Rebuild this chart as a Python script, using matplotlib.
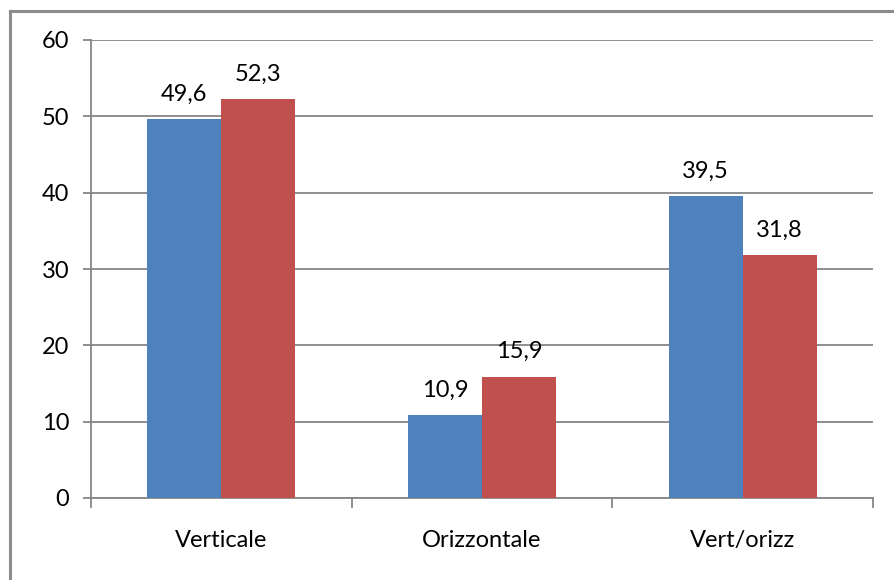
import matplotlib
matplotlib.use("Agg")
import matplotlib.pyplot as plt
import numpy as np

categories = ["Verticale", "Orizzontale", "Vert/orizz"]
series_a = [49.6, 10.9, 39.5]
series_b = [52.3, 15.9, 31.8]
yticks = [0, 10, 20, 30, 40, 50, 60]

plt.rcParams['font.family'] = ['Lato', 'DejaVu Sans']
fig = plt.figure(figsize=(8.95, 5.8), dpi=100)
W, H = 895, 580
ax = fig.add_axes([91 / W, 1 - 498 / H, (873 - 91) / W, (498 - 40) / H])

blue = "#4F81BD"
red = "#C0504D"
grid = "#868686"
fs = 17
x = np.arange(len(categories))
bw = 74 / 261
ax.bar(x - bw / 2, series_a, bw, color=blue, zorder=3)
ax.bar(x + bw / 2, series_b, bw, color=red, zorder=3)

def fmt(v):
    return f"{v:.1f}".replace(".", ",")

for xi, v in zip(x - bw / 2, series_a):
    ax.text(xi, v + 2.4, fmt(v), ha="center", va="baseline", fontsize=fs, color="black")
for xi, v in zip(x + bw / 2, series_b):
    ax.text(xi, v + 2.4, fmt(v), ha="center", va="baseline", fontsize=fs, color="black")

ax.set_xlim(-0.5, len(categories) - 0.5)
ax.set_ylim(0, 60)
ax.set_yticks(yticks)
ax.set_yticklabels([str(t) for t in yticks], fontsize=fs)
ax.yaxis.grid(True, color=grid, linewidth=1.3, zorder=0)
ax.set_axisbelow(True)

ax.set_xticks(x)
ax.set_xticklabels(categories, fontsize=fs)
ax.tick_params(axis="x", length=0, pad=23)
for b in np.arange(-0.5, len(categories), 1.0):
    ax.plot([b, b], [0, -1.2], color=grid, linewidth=1.3, clip_on=False, zorder=4)
ax.tick_params(axis="y", length=5.8, color=grid, width=1.3, pad=10)

for s in ["top", "right"]:
    ax.spines[s].set_visible(False)
for s in ["left", "bottom"]:
    ax.spines[s].set_color(grid)
    ax.spines[s].set_linewidth(1.3)

# outer chart border
fig.add_artist(plt.Line2D([10.5 / W, 10.5 / W], [0, 1 - 10.5 / H], color="#8c8c8c", linewidth=2.2, transform=fig.transFigure))
fig.add_artist(plt.Line2D([10.5 / W, 1], [1 - 10.5 / H, 1 - 10.5 / H], color="#8c8c8c", linewidth=2.2, transform=fig.transFigure))

fig.savefig("out.png", dpi=100, facecolor="white")
